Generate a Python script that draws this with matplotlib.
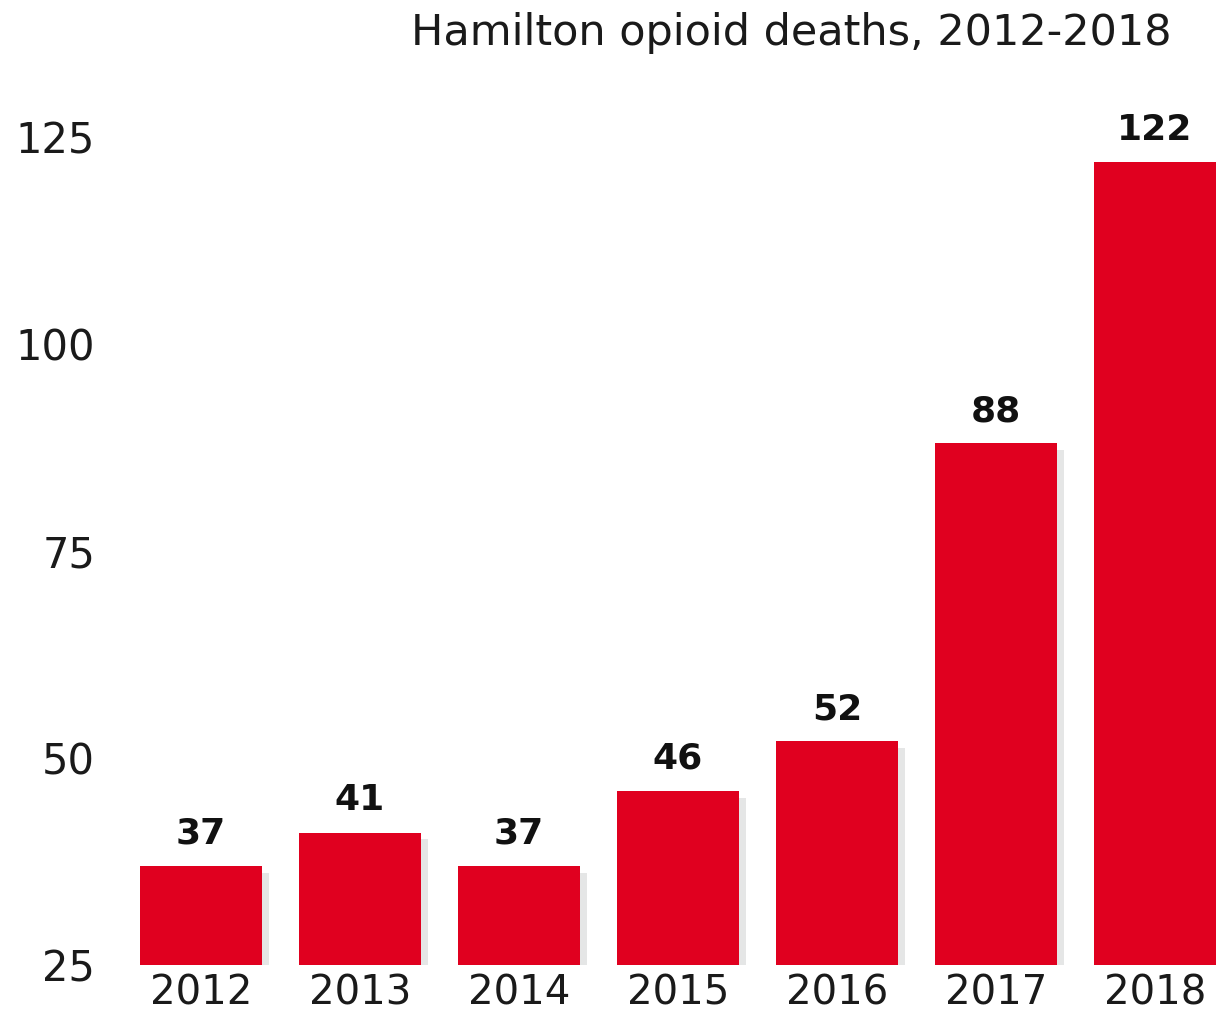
import matplotlib
matplotlib.use("Agg")
import matplotlib.pyplot as plt
import matplotlib.patheffects as pe

years = ["2012", "2013", "2014", "2015", "2016", "2017", "2018"]
deaths = [37, 41, 37, 46, 52, 88, 122]
yticks = [25, 50, 75, 100, 125]
title = "Hamilton opioid deaths, 2012-2018"

plt.rcParams['font.family'] = ['DejaVu Sans']

fig = plt.figure(figsize=(12.16, 10.18), dpi=100)
ax = fig.add_axes([120/1216, 53/1018, 1 - 120/1216, (965-95.6)/1018])

base = 25
x = list(range(len(years)))
heights = [d - base for d in deaths]
bars = ax.bar(x, heights, bottom=base, width=0.77, color="#E0001F", zorder=3)
for b in bars:
    b.set_path_effects([pe.SimplePatchShadow(offset=(5, -5), shadow_rgbFace="#8a9090", alpha=0.22), pe.Normal()])

for xi, d in zip(x, deaths):
    ax.annotate(str(d), (xi, d), xytext=(0, 11), textcoords="offset points",
                ha="center", va="bottom", fontsize=26, fontweight="bold", color="#111111")

ax.set_xlim(-0.51, 6.384)
ax.set_ylim(25, 130)
ax.set_xticks(x)
ax.set_xticklabels(years)
ax.set_yticks(yticks)
ax.tick_params(axis="both", length=0, labelsize=30, colors="#1a1a1a")
ax.tick_params(axis="y", pad=18)
ax.tick_params(axis="x", pad=6, labelsize=29)
for s in ax.spines.values():
    s.set_visible(False)

fig.text(1172/1216, 1 - 33/1018, title, ha="right", va="center", fontsize=31, color="#1a1a1a")

fig.savefig("out.png", dpi=100)
